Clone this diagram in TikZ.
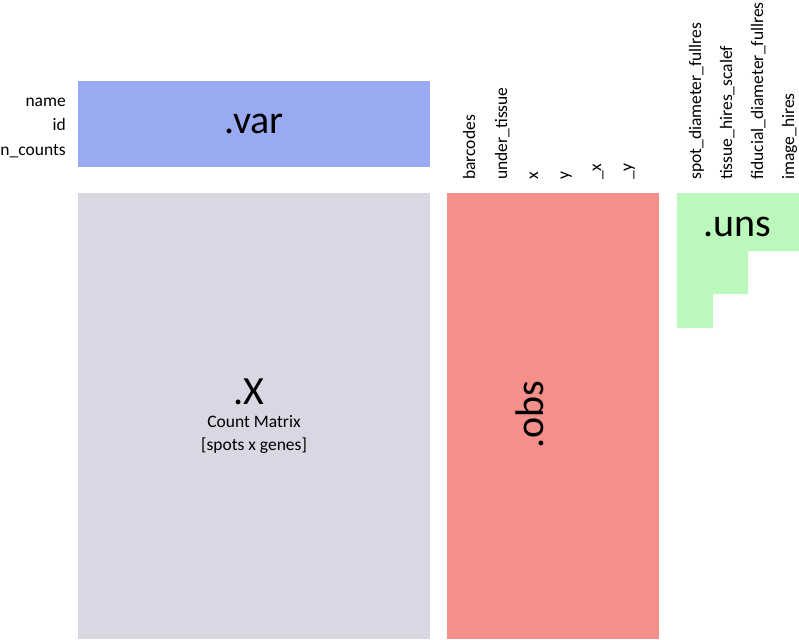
\documentclass[tikz,border=0pt]{standalone}
\usepackage{fontspec}
\setmainfont{Carlito}
\definecolor{varcol}{HTML}{9AAAF2}
\definecolor{xcol}{HTML}{D8D8E4}
\definecolor{obscol}{HTML}{F58F8A}
\definecolor{unscol}{HTML}{BBF8BB}
\tikzset{
  big/.style={font=\fontsize{40}{44}\selectfont, inner sep=0pt},
  lbl/.style={font=\fontsize{17.5}{20}\selectfont, inner sep=0pt},
  collbl/.style={lbl, rotate=90, anchor=base west},
  rowlbl/.style={lbl, anchor=base east},
}
\begin{document}
\begin{tikzpicture}[x=1pt,y=-1pt]
\useasboundingbox (0,0) rectangle (799,639);
% blocks
\fill[varcol] (78,81) rectangle (430,167);
\fill[xcol] (78,193) rectangle (430,639);
\fill[obscol] (447,193) rectangle (659,639);
\fill[unscol] (677,193) -- (799,193) -- (799,251) -- (748,251) -- (748,294) -- (713,294) -- (713,328) -- (677,328) -- cycle;
% titles
\node[big, anchor=base] (var) at (254,134) {.var};
\node[big, anchor=base] (X) at (249,404) {.X};
\node[lbl, anchor=base] (cm) at (254,427) {Count Matrix};
\node[lbl, anchor=base] (sg) at (254,450) {[spots x genes]};
\node[big, rotate=90, anchor=base] (obs) at (543,415) {.obs};
\node[big, anchor=base] (uns) at (737,236) {.uns};
% var labels
\node[rowlbl] (name) at (66,107) {name};
\node[rowlbl] (id) at (66,131) {id};
\node[rowlbl] (nc) at (66,155) {n\_counts};
% obs labels
\node[collbl] (c1) at (475,180) {barcodes};
\node[collbl] (c2) at (507,180) {under\_tissue};
\node[collbl] (c3) at (538,180) {x};
\node[collbl] (c4) at (569,180) {y};
\node[collbl] (c5) at (601,180) {\_x};
\node[collbl] (c6) at (632,180) {\_y};
% uns labels
\node[collbl] (u1) at (701,180) {spot\_diameter\_fullres};
\node[collbl] (u2) at (732,180) {tissue\_hires\_scalef};
\node[collbl] (u3) at (763,180) {fiducial\_diameter\_fullres};
\node[collbl] (u4) at (794,180) {image\_hires};
\end{tikzpicture}
\end{document}
